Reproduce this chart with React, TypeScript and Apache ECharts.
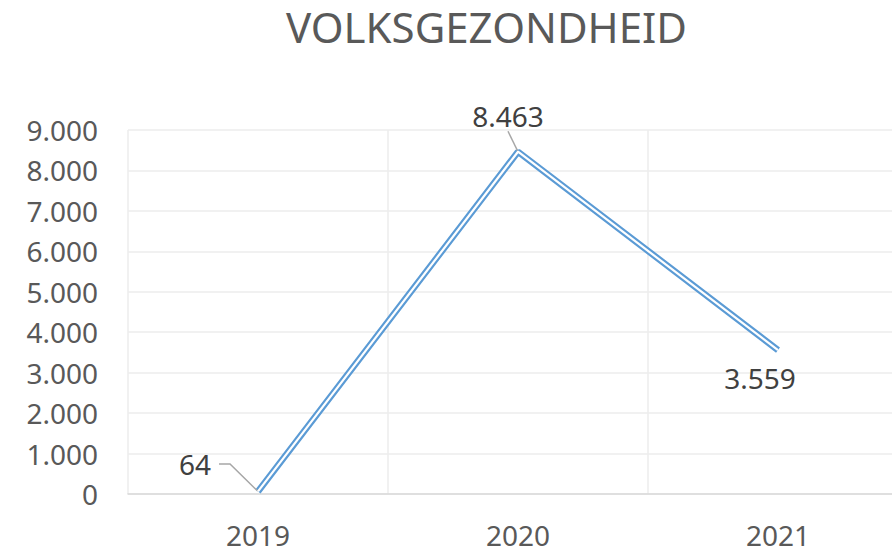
import React, { useEffect, useRef } from "react";
import * as echarts from "echarts";

const titleText = "VOLKSGEZONDHEID";
const categories = ["2019", "2020", "2021"];
const values = [64, 8463, 3559];
const showLeader = [true, true, false];
const leaderTail = [11, 0, 0];
const yTicks = { min: 0, max: 9000, interval: 1000 };

const fmt = (v: number) => String(Math.round(v)).replace(/\B(?=(\d{3})+(?!\d))/g, ".");

export default function App() {
  const ref = useRef<HTMLDivElement>(null);
  useEffect(() => {
    document.body.style.margin = "0";
    const chart = echarts.init(ref.current!, undefined, { renderer: "svg" });
    const font = "Noto Sans";
    const labelOffsets = [
      [-59, -12],
      [-10, -20],
      [-18, 43],
    ];
    const labelPads = [
      [0, 8, 0, 0],
      [0, 0, 0, 0],
      [0, 0, 0, 0],
    ];
    chart.setOption({
      animation: false,
      backgroundColor: "#ffffff",
      title: {
        text: titleText,
        left: 281,
        top: 0,
        textStyle: { fontFamily: font, fontSize: 42, fontWeight: "normal", color: "#595959" },
      },
      grid: { left: 128, top: 130, height: 364, width: 780, outerBoundsMode: "none", containLabel: false },
      xAxis: {
        type: "category",
        data: categories,
        boundaryGap: true,
        axisLine: { lineStyle: { color: "#d9d9d9", width: 1.5 } },
        axisTick: { show: false },
        splitLine: { show: true, lineStyle: { color: "#ececec", width: 1.5 } },
        axisLabel: { fontFamily: font, fontSize: 28, lineHeight: 24, color: "#595959", margin: 29 },
      },
      yAxis: {
        type: "value",
        min: yTicks.min,
        max: yTicks.max,
        interval: yTicks.interval,
        axisLine: { show: false },
        axisTick: { show: false },
        splitLine: { lineStyle: { color: "#ececec", width: 1.5 } },
        axisLabel: { fontFamily: font, fontSize: 28, color: "#595959", margin: 30, formatter: fmt },
      },
      series: [
        {
          type: "line",
          data: values.map((v, i) => ({
            value: v,
            label: { padding: labelPads[i] },
            labelLine: { show: showLeader[i], length2: leaderTail[i] },
          })),
          symbol: "circle",
          symbolSize: 1,
          showSymbol: true,
          itemStyle: { color: "transparent" },
          lineStyle: { color: "#5b9bd5", width: 6.5 },
          z: 2,
          label: {
            show: true,
            position: "top",
            distance: 0,
            lineHeight: 30,
            fontFamily: font,
            fontSize: 28,
            color: "#404040",
            formatter: (p: any) => fmt(p.value),
          },
          labelLine: { show: true, lineStyle: { color: "#a6a6a6", width: 1.5 } },
          labelLayout: (p: any) => ({
            dx: labelOffsets[p.dataIndex][0],
            dy: labelOffsets[p.dataIndex][1],
          }),
        },
        {
          type: "line",
          data: values,
          symbol: "none",
          silent: true,
          lineStyle: { color: "#ffffff", width: 2.2 },
          z: 3,
        },
      ],
    });
    return () => chart.dispose();
  }, []);
  return <div ref={ref} style={{ width: 892, height: 548 }} />;
}
